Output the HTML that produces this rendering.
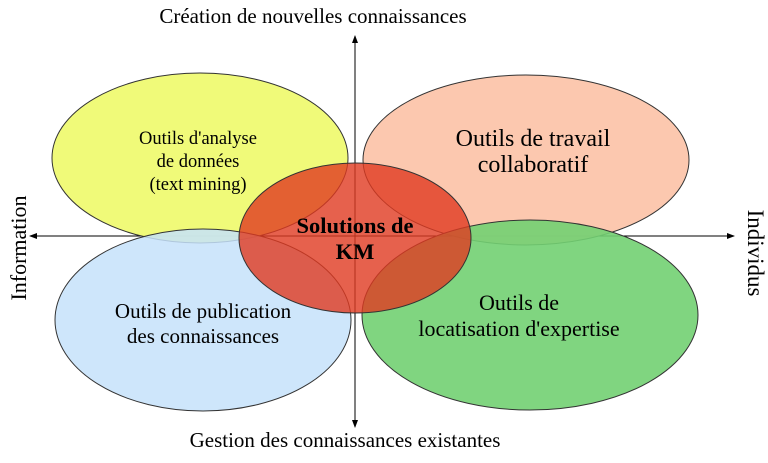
<!DOCTYPE html><html><head><style>body{margin:0;background:#fff}</style></head><body>
<svg width="768" height="458" viewBox="0 0 768 458" xmlns="http://www.w3.org/2000/svg" font-family="Liberation Serif, serif">
<defs><marker id="a" markerWidth="8" markerHeight="8" refX="7" refY="4" orient="auto"><path d="M0,1 L8,4 L0,7 z" fill="#000"/></marker></defs>
<line x1="355" y1="427" x2="355" y2="36" stroke="#000" marker-end="url(#a)"/>
<line x1="355" y1="236" x2="355" y2="427" stroke="#000" marker-end="url(#a)"/>
<line x1="355" y1="236" x2="734" y2="236" stroke="#000" marker-end="url(#a)"/>
<line x1="355" y1="236" x2="30" y2="236" stroke="#000" marker-end="url(#a)"/>
<g stroke="#333" stroke-width="1">
<ellipse cx="200" cy="158" rx="148" ry="85" fill="#eefa6a" fill-opacity="0.9"/>
<ellipse cx="526" cy="160" rx="163" ry="85" fill="#fcc2a6" fill-opacity="0.9"/>
<ellipse cx="203" cy="320" rx="148" ry="91" fill="#c6e2fa" fill-opacity="0.85"/>
<ellipse cx="530" cy="315" rx="168" ry="95" fill="#72d072" fill-opacity="0.9"/>
<ellipse cx="355" cy="238" rx="116" ry="75" fill="#e03a20" fill-opacity="0.8"/>
</g>
<g text-anchor="middle">
<text x="313" y="23" font-size="21">Création de nouvelles connaissances</text>
<text x="345" y="447" font-size="21">Gestion des connaissances existantes</text>
<text transform="translate(26,248) rotate(-90)" font-size="22">Information</text>
<text transform="translate(748,253) rotate(90)" font-size="23">Individus</text>
<text x="198" y="144" font-size="18.5">Outils d'analyse</text>
<text x="198" y="167" font-size="18.5">de données</text>
<text x="198" y="190" font-size="18.5">(text mining)</text>
<text x="533" y="146" font-size="24">Outils de travail</text>
<text x="533" y="172" font-size="24">collaboratif</text>
<text x="355" y="233" font-size="22.5" font-weight="bold">Solutions de</text>
<text x="355" y="259" font-size="22.5" font-weight="bold">KM</text>
<text x="203" y="318" font-size="21">Outils de publication</text>
<text x="203" y="343" font-size="21">des connaissances</text>
<text x="519" y="310" font-size="22">Outils de</text>
<text x="519" y="336" font-size="22">locatisation d'expertise</text>
</g>
</svg></body></html>
